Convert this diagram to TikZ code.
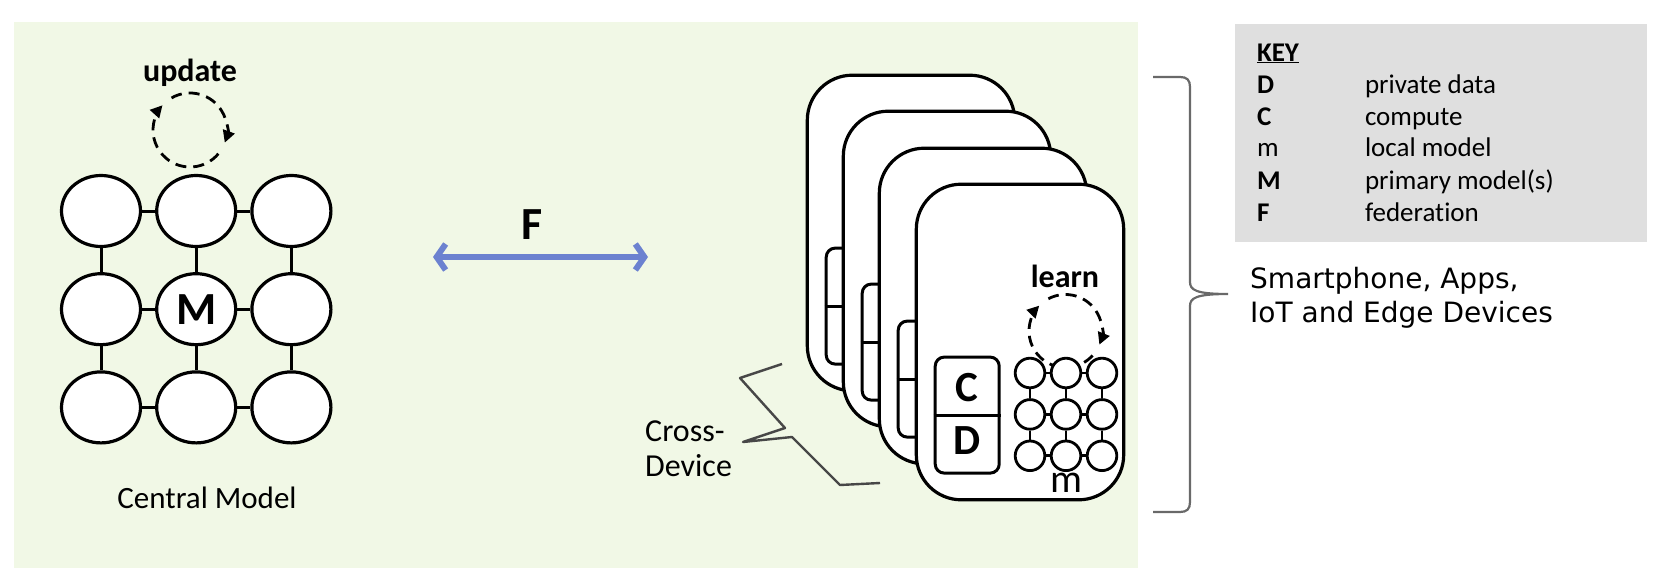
\documentclass[tikz,border=0pt]{standalone}
\usepackage{fontspec}
\setmainfont{Carlito}[Ligatures=NoCommon]
\newfontfamily\devfont{DejaVu Sans}
\usepackage{tikz}
\usetikzlibrary{positioning,shapes.geometric,arrows.meta}

\definecolor{bggreen}{RGB}{241,248,230}
\definecolor{keygray}{RGB}{223,223,223}
\definecolor{fedblue}{RGB}{108,130,208}
\definecolor{bracegray}{RGB}{105,105,105}

\tikzset{
  cell/.style={draw, ellipse, fill=white, line width=3.2pt, minimum width=79pt, minimum height=71pt, inner sep=0pt},
  lcell/.style={draw, circle, fill=white, line width=2.8pt, minimum size=29.6pt, inner sep=0pt},
  card/.style={draw, fill=white, rounded corners=45pt, line width=3.2pt, minimum width=207.4pt, minimum height=315.6pt},
  cdbox/.style={draw, fill=white, rounded corners=9pt, line width=3pt, minimum width=64pt, minimum height=116pt},
  cdtxt/.style={font=\fontsize{43}{48}\selectfont\bfseries, inner sep=0pt},
  boldlab/.style={font=\fontsize{32}{38}\selectfont\bfseries, inner sep=0pt},
  link/.style={line width=3pt},
  llink/.style={line width=2.8pt},
  cyclearrow/.style={line width=2.8pt, dash pattern=on 11pt off 7pt, -{Triangle[length=12pt,width=12pt]}},
  fedarrow/.style={draw=fedblue, line width=6pt, {Straight Barb[length=9pt,width=26pt]}-{Straight Barb[length=9pt,width=26pt]}},
  keybox/.style={fill=keygray, minimum width=412pt, minimum height=218pt, inner sep=0pt},
  keytxt/.style={font=\fontsize{27}{32}\selectfont, inner sep=0pt},
  devtxt/.style={font=\devfont\fontsize{28}{34}\selectfont, align=left, inner sep=0pt},
  crosstxt/.style={font=\fontsize{32}{35}\selectfont, align=left, inner sep=0pt},
  squiggle/.style={draw=black!72, line width=2.4pt, line join=round},
  bracket/.style={draw=bracegray, line width=2.2pt},
}

\begin{document}
\begin{tikzpicture}[x=1pt,y=-1pt]
  \useasboundingbox[fill=white] (0,0) rectangle (1672,583);
  \fill[bggreen] (14,22) rectangle (1138,568);

  % central model
  \node[cell] (c11) at (101,211) {};
  \node[cell, right = 13pt of c11] (c12) {};
  \node[cell, right = 13pt of c12] (c13) {};
  \node[cell, below = 24pt of c11] (c21) {};
  \node[cell, right = 13pt of c21, font=\fontsize{46}{50}\selectfont\bfseries] (c22) {M};
  \node[cell, right = 13pt of c22] (c23) {};
  \node[cell, below = 24pt of c21] (c31) {};
  \node[cell, right = 13pt of c31] (c32) {};
  \node[cell, right = 13pt of c32] (c33) {};

  \draw [link] (c11) -- (c12);
  \draw [link] (c12) -- (c13);
  \draw [link] (c21) -- (c22);
  \draw [link] (c22) -- (c23);
  \draw [link] (c31) -- (c32);
  \draw [link] (c32) -- (c33);
  \draw [link] (c11) -- (c21);
  \draw [link] (c21) -- (c31);
  \draw [link] (c12) -- (c22);
  \draw [link] (c22) -- (c32);
  \draw [link] (c13) -- (c23);
  \draw [link] (c23) -- (c33);

  \coordinate (upd) at (190,130);
  \draw [cyclearrow] ([shift={(-120:37)}]upd) arc [start angle=-120, end angle=20, radius=37];
  \draw [cyclearrow] ([shift={(40:37)}]upd) arc [start angle=40, end angle=222, radius=37];
  \node [boldlab] (updlab) at (190,73) {update};
  \node [font=\fontsize{31}{37}\selectfont, inner sep=0pt] (cmlab) at (207,498) {Central Model};

  % federation
  \coordinate (fl) at (433,257);
  \coordinate (fr) at (648,257);
  \draw [fedarrow] (fl) -- (fr);
  \node [font=\fontsize{46}{50}\selectfont\bfseries, inner sep=0pt] (flab) at (532,225) {F};

  % devices
  \node[card] (d1) at (911,233) {};
  \node[cdbox, below right = 173pt and 19pt of d1.north west] (cd1) {};
  \draw [link] (cd1.west) -- (cd1.east);
  \node[card] (d2) at (947,269) {};
  \node[cdbox, below right = 173pt and 19pt of d2.north west] (cd2) {};
  \draw [link] (cd2.west) -- (cd2.east);
  \node[card] (d3) at (983,306) {};
  \node[cdbox, below right = 173pt and 19pt of d3.north west] (cd3) {};
  \draw [link] (cd3.west) -- (cd3.east);
  \node[card] (d4) at (1020,342) {};
  \node[cdbox, below right = 173pt and 19pt of d4.north west] (cd4) {};
  \draw [link] (cd4.west) -- (cd4.east);
  \node[cdtxt, above = 13pt of cd4.center] (cc4) {C};
  \node[cdtxt, below = 11pt of cd4.center] (dd4) {D};

  \node [boldlab] (lrnlab) at (1065,276) {learn};
  \coordinate (lrn) at (1065.5,331);
  \draw [cyclearrow] ([shift={(-118:36.5)}]lrn) arc [start angle=-118, end angle=22, radius=36.5];
  \draw [cyclearrow] ([shift={(42:36.5)}]lrn) arc [start angle=42, end angle=224, radius=36.5];

  \node[lcell] (l11) at (1030,373) {};
  \node[lcell, right = 3.6pt of l11] (l12) {};
  \node[lcell, right = 3.6pt of l12] (l13) {};
  \node[lcell, below = 9pt of l11] (l21) {};
  \node[lcell, right = 3.6pt of l21] (l22) {};
  \node[lcell, right = 3.6pt of l22] (l23) {};
  \node[lcell, below = 9pt of l21] (l31) {};
  \node[lcell, right = 3.6pt of l31] (l32) {};
  \node[lcell, right = 3.6pt of l32] (l33) {};

  \draw [llink] (l11) -- (l12);
  \draw [llink] (l12) -- (l13);
  \draw [llink] (l21) -- (l22);
  \draw [llink] (l22) -- (l23);
  \draw [llink] (l31) -- (l32);
  \draw [llink] (l32) -- (l33);
  \draw [llink] (l11) -- (l21);
  \draw [llink] (l21) -- (l31);
  \draw [llink] (l12) -- (l22);
  \draw [llink] (l22) -- (l32);
  \draw [llink] (l13) -- (l23);
  \draw [llink] (l23) -- (l33);
  \node [font=\fontsize{40}{44}\selectfont, inner sep=0pt] (mlab) at (1066,483) {m};

  % cross-device
  \draw [squiggle] (782,364) -- (740,378) -- (785,428) -- (743,442) -- (792,437) -- (840,485) -- (880,483);
  \node [crosstxt, anchor=north west] (xdev) at (645,421) {Cross-\\Device};

  % device group
  \draw [bracket] (1153,77) -- (1180,77) .. controls (1187,77) and (1190,80) .. (1190,87)
    -- (1190,282) .. controls (1190,290) and (1196,294) .. (1228,294)
    .. controls (1196,294) and (1190,298) .. (1190,306)
    -- (1190,502) .. controls (1190,509) and (1187,512) .. (1180,512) -- (1153,512);
  \node [devtxt, anchor=north west] (devlab) at (1250,267) {Smartphone, Apps,\\IoT and Edge Devices};

  % key
  \node[keybox] (keyb) at (1441,133) {};
  \node[keytxt, below right = 14.6pt and 22pt of keyb.north west] (keytab) {%
    \begin{tabular}{@{}p{108pt}@{}l@{}}
      \underline{\textbf{KEY}} & \\
      \textbf{D} & private data \\
      \textbf{C} & compute \\
      m & local model \\
      \textbf{M} & primary model(s) \\
      \textbf{F} & federation
    \end{tabular}};
\end{tikzpicture}
\end{document}
